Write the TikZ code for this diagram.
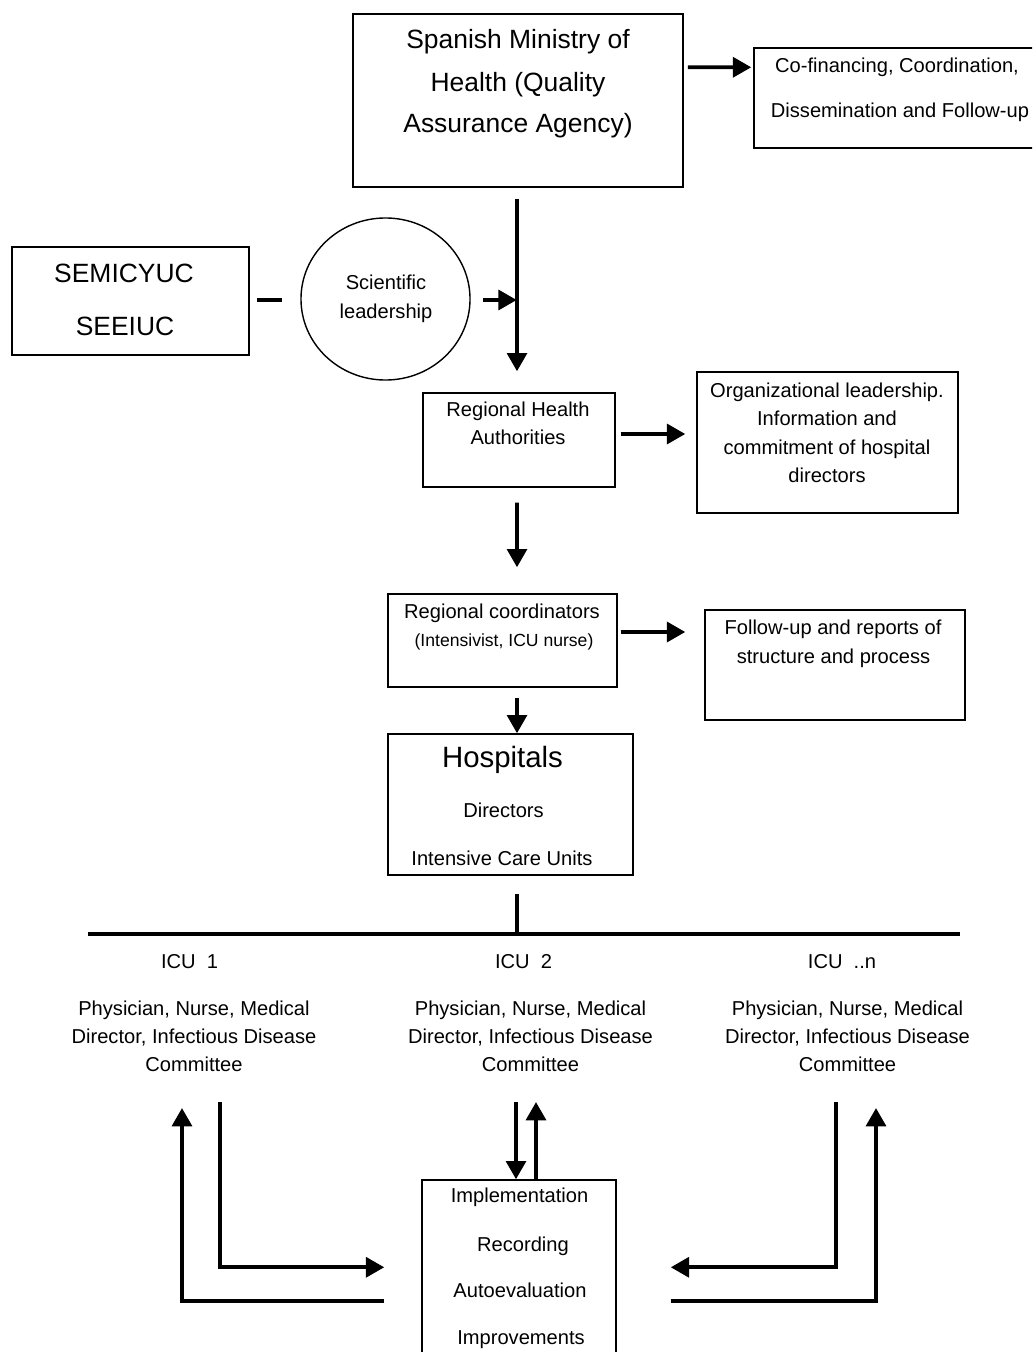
\documentclass[tikz,border=0pt]{standalone}
\usepackage{fontspec}
\setmainfont{Liberation Sans}
\usetikzlibrary{arrows.meta}
\usetikzlibrary{shapes.geometric}

\begin{document}
\begin{tikzpicture}[x=0.025cm, y=-0.025cm,
	box/.style={draw, line width=1pt, inner sep=0pt},
	txt/.style={inner sep=0pt, text height=10.3pt, text depth=0pt, font=\fontsize{14.3}{17}\selectfont},
	big/.style={txt, text height=13.5pt, font=\fontsize{18.8}{22}\selectfont},
	arr/.style={line width=2.8pt, -{Triangle[length=13pt,width=14pt]}},
	bar/.style={line width=2.8pt}]
	\useasboundingbox (0,0) rectangle (1032,1352);
	\clip (0,0) rectangle (1032,1352);
	
	\node[box, minimum width=8.25cm, minimum height=4.325cm] (ministry) at (518,100.5) {};
	\node[big] (m1) at (518,39) {Spanish Ministry of};
	\node[big] (m2) at (518,82.5) {Health (Quality};
	\node[big] (m3) at (518,123.5) {Assurance Agency)};
	
	\node[box, minimum width=8cm, minimum height=2.5cm] (cofin) at (914,98) {};
	\node[txt] (c1) at (897,65) {Co-financing, Coordination,};
	\node[txt] (c2) at (900,110) {Dissemination and Follow-up};
	
	\node[box, minimum width=5.925cm, minimum height=2.7cm] (semi) at (130.5,301) {};
	\node[big] (s1) at (124,273.5) {SEMICYUC};
	\node[big] (s2) at (125,326.5) {SEEIUC};
	
	\node[box, ellipse, minimum width=4.225cm, minimum height=4.05cm] (sci) at (385.5,299) {};
	\node[txt] (sc1) at (386,282.5) {Scientific};
	\node[txt] (sc2) at (386,311.5) {leadership};
	
	\node[box, minimum width=4.8cm, minimum height=2.35cm] (rha) at (519,440) {};
	\node[txt] (r1) at (518,409) {Regional Health};
	\node[txt] (r2) at (518,437) {Authorities};
	
	\node[box, minimum width=6.525cm, minimum height=3.525cm] (org) at (827.5,442.5) {};
	\node[txt] (o1) at (827,390) {Organizational leadership.};
	\node[txt] (o2) at (827,418) {Information and};
	\node[txt] (o3) at (827,447) {commitment of hospital};
	\node[txt] (o4) at (827,475) {directors};
	
	\node[box, minimum width=5.725cm, minimum height=2.325cm] (reg) at (502.5,640.5) {};
	\node[txt] (g1) at (502,611) {Regional coordinators};
	\node[txt, text height=9pt, font=\fontsize{12.5}{15}\selectfont] (g2) at (504,640) {(Intensivist, ICU nurse)};
	
	\node[box, minimum width=6.5cm, minimum height=2.75cm] (fol) at (835,665) {};
	\node[txt] (f1) at (833,627) {Follow-up and reports of};
	\node[txt] (f2) at (833.5,656) {structure and process};
	
	\node[box, minimum width=6.125cm, minimum height=3.525cm] (hosp) at (510.5,804.5) {};
	\node[txt, text height=15pt, font=\fontsize{20.9}{24}\selectfont] (h1) at (502.5,757) {Hospitals};
	\node[txt] (h2) at (503.5,810) {Directors};
	\node[txt] (h3) at (502,858.5) {Intensive Care Units};
	
	\node[box, minimum width=4.85cm, minimum height=4.625cm] (impl) at (519,1272.5) {};
	\node[txt] (i1) at (519.5,1195.5) {Implementation};
	\node[txt] (i2) at (523,1244.5) {Recording};
	\node[txt] (i3) at (520,1290) {Autoevaluation};
	\node[txt] (i4) at (521,1337) {Improvements};
	
	\foreach \i/\x/\xh/\h in {1/194/189.5/{ICU~~1}, 2/530.5/523.5/{ICU~~2}, 3/847.5/842/{ICU~~..n}}{
		\node[txt] (icu\i) at (\xh,961) {\h};
		\node[txt] (ph\i) at (\x,1008.5) {Physician, Nurse, Medical};
		\node[txt] (di\i) at (\x,1036) {Director, Infectious Disease};
		\node[txt] (cm\i) at (\x,1064.5) {Committee};
	}
	
	\draw[arr] ([shift={(4,54)}]ministry.north east) -- ([shift={(-2,20)}]cofin.north west);
	\draw[arr] ([shift={(-1,11)}]ministry.south) -- ([shift={(-2,-21)}]rha.north);
	\draw[bar] ([shift={(7,-1)}]semi.east) -- ([shift={(-18,1)}]sci.west);
	\draw[arr] ([shift={(12,1)}]sci.east) -- ([shift={(46,1)}]sci.east);
	\draw[arr] ([shift={(5,-6)}]rha.east) -- ([shift={(-11,-8.5)}]org.west);
	\draw[arr] ([shift={(-2,15)}]rha.south) -- ([shift={(14.5,-26)}]reg.north);
	\draw[arr] ([shift={(3,-8.5)}]reg.east) -- ([shift={(-19,-33)}]fol.west);
	\draw[arr] ([shift={(14.5,10)}]reg.south) -- ([xshift=6.5*0.025cm]hosp.north);
	
	\coordinate (busl) at (88,934);
	\coordinate (busr) at (960,934);
	\coordinate (hb) at ([shift={(6.5,18)}]hosp.south);
	\draw[bar] (busl) -- (busr);
	\draw[bar] (hb) -- (hb |- busl);
	
	\draw[arr] ([shift={(26,37.5)}]cm1.center) |- ([shift={(-37,88)}]impl.north west);
	\draw[arr] ([shift={(-37,122)}]impl.north west) -| ([shift={(-12,43.5)}]cm1.center);
	\draw[arr] ([shift={(-14.5,37.5)}]cm2.center) -- ([xshift=-3*0.025cm]impl.north);
	\draw[arr] ([xshift=17*0.025cm]impl.north) -- ([shift={(5.5,37.5)}]cm2.center);
	\draw[arr] ([shift={(-11.5,37.5)}]cm3.center) |- ([shift={(54,88)}]impl.north east);
	\draw[arr] ([shift={(54,122)}]impl.north east) -| ([shift={(28.5,43.5)}]cm3.center);
\end{tikzpicture}
\end{document}
